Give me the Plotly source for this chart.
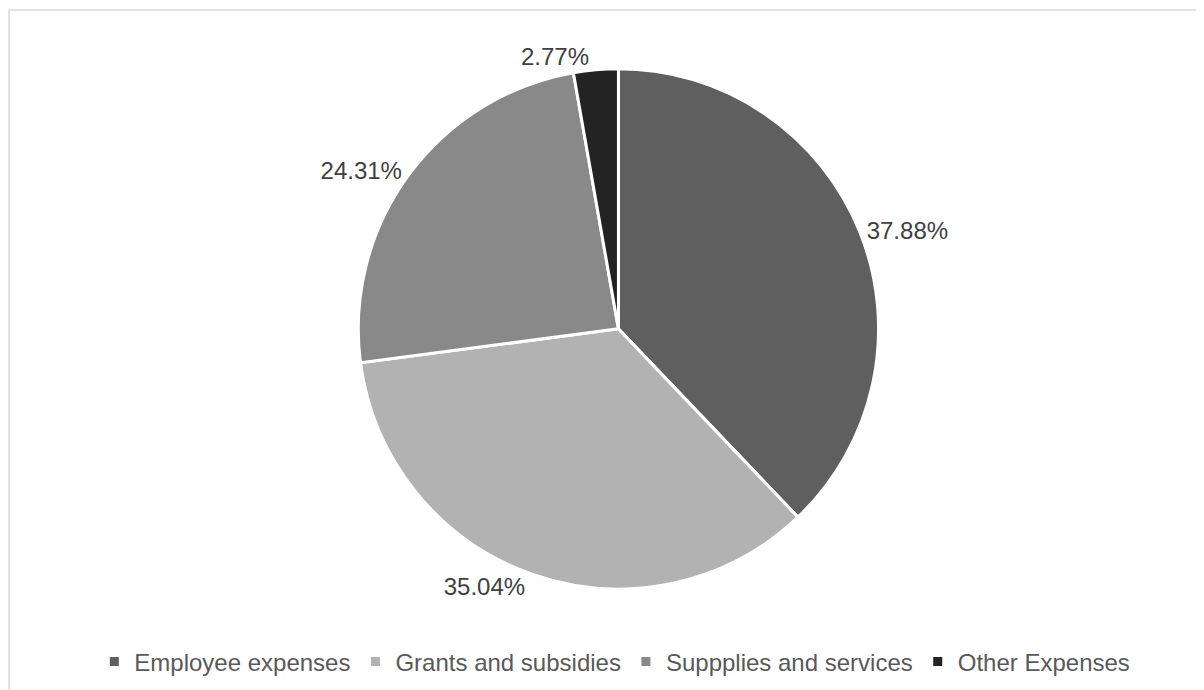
import plotly.graph_objects as go

categories = ["Employee expenses", "Grants and subsidies", "Suppplies and services", "Other Expenses"]
values = [37.88, 35.04, 24.31, 2.77]
colors = ["#5f5f5f", "#b2b2b2", "#898989", "#232323"]

W, H = 1204, 690

fig = go.Figure(go.Pie(
    labels=categories,
    values=values,
    marker=dict(colors=colors, line=dict(color="white", width=3)),
    sort=False,
    direction="clockwise",
    rotation=0,
    texttemplate="%{value:.2f}%",
    textposition="outside",
    textfont=dict(family="Liberation Sans, Arial", size=24, color="#404040"),
    hoverinfo="label+percent",
    domain=dict(x=[0.212, 0.802], y=[0.158, 0.912]),
    showlegend=True,
))

fig.update_layout(
    width=W, height=H,
    margin=dict(l=0, r=0, t=0, b=0),
    paper_bgcolor="white",
    font=dict(family="Liberation Sans, Arial", size=24, color="#595959"),
    legend=dict(orientation="h", x=0.504, xanchor="center", y=36/H, yanchor="middle",
                font=dict(size=24, color="#595959"), itemwidth=30, traceorder="normal"),
    shapes=[dict(type="rect", xref="paper", yref="paper",
                 x0=1/W, x1=1.02, y0=-0.05, y1=1 - 2/H,
                 line=dict(color="#d9d9d9", width=1.5))],
)

fig.write_html("out.html")
